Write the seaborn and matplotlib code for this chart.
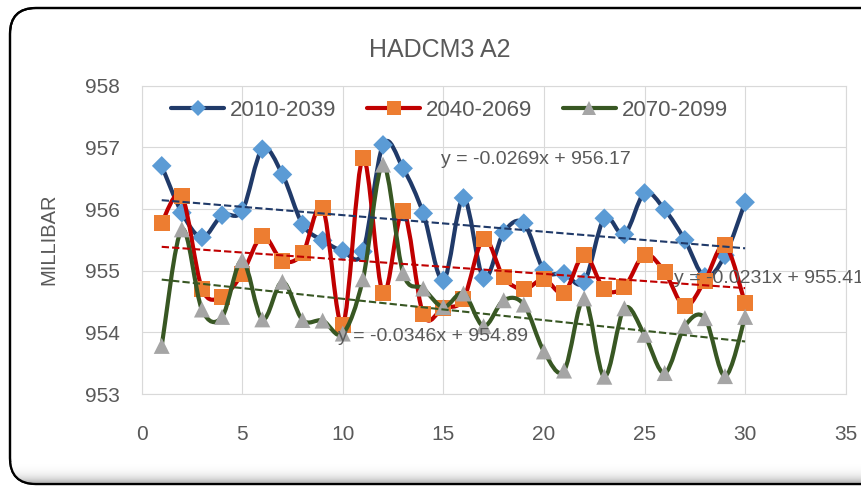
import numpy as np
import pandas as pd
import seaborn as sns
import matplotlib.pyplot as plt
from matplotlib.path import Path
from matplotlib.patches import PathPatch, FancyBboxPatch
from matplotlib.lines import Line2D

# Data (mean pressure, millibar, years 1..30 of each period)
years = list(range(1, 31))
p_2010_2039 = [956.70, 955.94, 955.54, 955.90, 955.97, 956.97, 956.56, 955.75, 955.49, 955.32,
               955.31, 957.04, 956.66, 955.93, 954.84, 956.18, 954.88, 955.62, 955.77, 955.01,
               954.95, 954.82, 955.85, 955.59, 956.26, 955.99, 955.50, 954.90, 955.25, 956.11]
p_2040_2069 = [955.78, 956.21, 954.71, 954.58, 954.95, 955.56, 955.16, 955.28, 956.02, 954.12,
               956.82, 954.64, 955.97, 954.29, 954.40, 954.54, 955.52, 954.89, 954.70, 954.86,
               954.64, 955.26, 954.70, 954.74, 955.26, 954.98, 954.42, 954.84, 955.41, 954.47]
p_2070_2099 = [953.78, 955.67, 954.37, 954.25, 955.17, 954.21, 954.82, 954.20, 954.19, 953.98,
               954.86, 956.72, 954.96, 954.71, 954.41, 954.63, 954.10, 954.52, 954.45, 953.69,
               953.38, 954.55, 953.28, 954.39, 953.96, 953.34, 954.10, 954.23, 953.29, 954.25]

series_names = ['2010-2039', '2040-2069', '2070-2099']
trend_slopes = [-0.0269, -0.0231, -0.0346]
trend_intercepts = [956.17, 955.41, 954.89]

# Styles
LINE_COLORS = ['#203A69', '#C00000', '#385723']
MARKER_COLORS = ['#5B9BD5', '#ED7D31', '#A5A5A5']
MARKERS = ['D', 's', '^']
MARKER_SIZES = [10, 11.5, 11.5]
LABEL_POS = [(14.9, 956.81), (26.45, 954.87), (9.76, 953.93)]
TEXT_GREY = '#595959'
GRID_GREY = '#D9D9D9'


def smooth_path(xs, ys):
    # Excel style smoothed line: cubic bezier through every point
    pts = np.column_stack([xs, ys]).astype(float)
    n = len(pts)
    verts = [pts[0]]
    codes = [Path.MOVETO]
    for i in range(n - 1):
        p0 = pts[i - 1] if i > 0 else pts[i]
        p1, p2 = pts[i], pts[i + 1]
        p3 = pts[i + 2] if i + 2 < n else pts[i + 1]
        verts += [p1 + (p2 - p0) / 6, p2 - (p3 - p1) / 6, p2]
        codes += [Path.CURVE4] * 3
    return Path(verts, codes)


sns.set_style('white')
plt.rcParams['font.family'] = ['Liberation Sans', 'DejaVu Sans']

fig = plt.figure(figsize=(8.61, 4.86), dpi=100)

# Rounded chart frame with a soft shadow (pixel coordinates)
bg = fig.add_axes([0, 0, 1, 1], zorder=-5)
bg.set_xlim(0, 861)
bg.set_ylim(486, 0)
bg.axis('off')
frame = FancyBboxPatch((10, 8), 880, 476, boxstyle='round,pad=0,rounding_size=26',
                       fc='white', ec='black', lw=1.6, zorder=1)
bg.add_patch(frame)
shade = np.linspace(0, 1, 64).reshape(-1, 1) ** 2.2
im = bg.imshow(shade, cmap='Greys', vmin=0, vmax=2.2, extent=(10, 890, 484, 462),
               aspect='auto', zorder=2, interpolation='bilinear')
im.set_clip_path(frame)
bg.add_patch(FancyBboxPatch((10, 8), 880, 476, boxstyle='round,pad=0,rounding_size=26',
                            fill=False, ec='black', lw=1.6, zorder=3))

ax = fig.add_axes([141.6 / 861, 1 - 394 / 486, (845.7 - 141.6) / 861, (394 - 85.7) / 486])
ax.set_facecolor('white')

all_series = [p_2010_2039, p_2040_2069, p_2070_2099]
x = np.array(years)
for i, vals in enumerate(all_series):
    df = pd.DataFrame({'year': years, 'mb': vals})
    ax.add_patch(PathPatch(smooth_path(years, vals), fill=False, ec=LINE_COLORS[i], lw=3,
                           capstyle='round', joinstyle='round', zorder=2 + i))
    sns.scatterplot(data=df, x='year', y='mb', marker=MARKERS[i], s=MARKER_SIZES[i] ** 2,
                    color=MARKER_COLORS[i], edgecolor='none', linewidth=0, ax=ax,
                    zorder=2.5 + i, legend=False)

# Linear trendlines and their equations
for i in range(3):
    ax.plot(x, trend_slopes[i] * x + trend_intercepts[i], color=LINE_COLORS[i], lw=1.5,
            ls=(0, (3.5, 1.5)), zorder=6)
    ax.text(LABEL_POS[i][0], LABEL_POS[i][1],
            f'y = {trend_slopes[i]:.4f}x + {trend_intercepts[i]:.2f}',
            fontsize=14, color=TEXT_GREY, ha='left', va='center', zorder=7)

ax.set_xlim(0, 35)
ax.set_ylim(953, 958)
ax.set_xticks(range(0, 36, 5))
ax.set_yticks(range(953, 959))
ax.grid(True, color=GRID_GREY, lw=0.8)
ax.set_axisbelow(True)
for sp in ax.spines.values():
    sp.set_color(GRID_GREY)
    sp.set_linewidth(0.8)
ax.tick_params(axis='both', length=0, labelsize=15, labelcolor=TEXT_GREY)
ax.tick_params(axis='y', pad=16)
ax.tick_params(axis='x', pad=22)
ax.set_xlabel('')
ax.set_ylabel('')

fig.text(48.5 / 861, 1 - 239 / 486, 'MILLIBAR', rotation=90, fontsize=14.5, color=TEXT_GREY,
         ha='center', va='center')
fig.text(440 / 861, 1 - 50 / 486, 'HADCM3 A2', fontsize=18, color=TEXT_GREY,
         ha='center', va='center')

handles = [Line2D([0], [0], color=LINE_COLORS[i], lw=3, marker=MARKERS[i],
                  markerfacecolor=MARKER_COLORS[i], markeredgewidth=0,
                  markersize=MARKER_SIZES[i] * 0.85) for i in range(3)]
leg = fig.legend(handles, series_names, loc='center left', bbox_to_anchor=(171 / 861, 1 - 110.7 / 486),
                 ncol=3, frameon=False, fontsize=16, handlelength=2.4, handletextpad=0.27,
                 columnspacing=1.36, borderpad=0, borderaxespad=0)
for t in leg.get_texts():
    t.set_color(TEXT_GREY)

fig.savefig('out.png', dpi=100)
